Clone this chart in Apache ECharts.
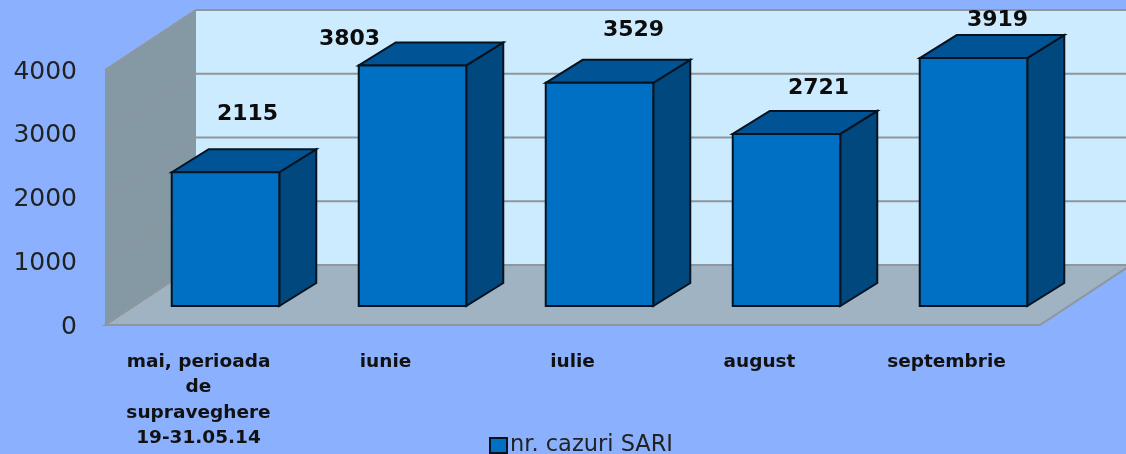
<!DOCTYPE html>
<html><head><meta charset="utf-8">
<style>html,body{margin:0;padding:0;background:#8BB1FE;overflow:hidden}#c{width:1126px;height:454px}</style>
<script src="https://cdn.jsdelivr.net/npm/echarts@6/dist/echarts.min.js"></script>
</head><body><div id="c"></div>
<script>
const categories = ['mai, perioada\nde\nsupraveghere\n19-31.05.14', 'iunie', 'iulie', 'august', 'septembrie'];
const values = [2115, 3803, 3529, 2721, 3919];
const yTicks = [0, 1000, 2000, 3000, 4000];
const seriesName = 'nr. cazuri SARI';
// hand-placed data labels in the source: offset from the bar's top centre
const labelOffsets = [[22, -58], [-63, -26], [34, -53], [32, -46], [24, -38]];

const wallDepth = [91, -60];
const barDepth = [37, -23];
const chart = echarts.init(document.getElementById('c'), null, {renderer: 'canvas'});
const gridColor = '#8E979D';
const edge = '#06131f';
const poly = (points, fill, stroke, lw) => ({type: 'polygon', shape: {points},
  style: {fill, stroke: stroke || 'none', lineWidth: lw || 0, lineJoin: 'miter'}});

function renderWalls(params, api) {
  const [x0, y0] = api.coord([0, 0]);
  const [, yT] = api.coord([0, yTicks[yTicks.length - 1]]);
  const s = api.size([1, 0])[0];
  const x1 = x0 - s / 2 + s * categories.length;
  const xL = x0 - s / 2;
  const [dx, dy] = wallDepth;
  return {type: 'group', children: [
    poly([[xL + dx, yT + dy], [x1 + dx + 10, yT + dy], [x1 + dx + 10, y0 + dy], [xL + dx, y0 + dy]], '#CCEBFF'),
    poly([[xL, y0], [xL + dx, y0 + dy], [x1 + dx, y0 + dy], [x1, y0]], '#9FB3C3', gridColor, 2),
    poly([[xL, yT], [xL + dx, yT + dy], [xL + dx, y0 + dy], [xL, y0]], '#8599A5')
  ]};
}
function renderGridline(params, api) {
  const v = api.value(1);
  const [x0, y] = api.coord([0, v]);
  const s = api.size([1, 0])[0];
  const xL = x0 - s / 2, x1 = xL + s * categories.length;
  const [dx, dy] = wallDepth;
  return {type: 'polyline', shape: {points: [[xL, y], [xL + dx, y + dy], [x1 + dx + 10, y + dy]]},
    style: {fill: 'none', stroke: gridColor, lineWidth: 2}};
}
function renderBar(params, api) {
  const [cx, yTop] = api.coord([api.value(0), api.value(1)]);
  const [, yBase] = api.coord([api.value(0), 0]);
  const w = api.size([1, 0])[0] * 0.575;
  const l = cx - w / 2, r = cx + w / 2;
  const [dx, dy] = barDepth;
  const off = labelOffsets[params.dataIndex];
  return {type: 'group', children: [
    poly([[r, yTop], [r + dx, yTop + dy], [r + dx, yBase + dy], [r, yBase]], '#00487E', edge, 2),
    poly([[l, yTop], [l + dx, yTop + dy], [r + dx, yTop + dy], [r, yTop]], '#005496', edge, 2),
    poly([[l, yTop], [r, yTop], [r, yBase], [l, yBase]], '#0070C4', edge, 2),
    {type: 'text', style: {x: cx + off[0], y: yTop + off[1], text: String(api.value(1)),
      fill: '#0c0c0c', font: 'bold 22px "DejaVu Sans"', align: 'center', verticalAlign: 'middle'}}
  ]};
}

chart.setOption({
  animation: false,
  backgroundColor: '#8BB1FE',
  grid: [
    {left: 105, width: 935, top: 70, height: 255},
    {left: 132, width: 935, top: 53, height: 253}
  ],
  xAxis: [
    {type: 'category', gridIndex: 0, data: categories,
      axisLine: {show: false}, axisTick: {show: false},
      axisLabel: {interval: 0, margin: 24, lineHeight: 25.5, color: '#111',
        fontFamily: 'DejaVu Sans', fontWeight: 'bold', fontSize: 18.5}},
    {type: 'category', gridIndex: 1, data: categories, show: false}
  ],
  yAxis: [
    {type: 'value', gridIndex: 0, min: 0, max: 4000, interval: 1000,
      axisLine: {show: false}, axisTick: {show: false}, splitLine: {show: false},
      axisLabel: {margin: 28, color: '#222', fontFamily: 'DejaVu Sans', fontSize: 25,
        verticalAlign: 'top', lineHeight: 4, formatter: v => String(v)}},
    {type: 'value', gridIndex: 1, min: 0, max: 4000, interval: 1000, show: false}
  ],
  legend: {
    left: 484, top: 429, itemWidth: 17, itemHeight: 15, itemGap: 6,
    data: [{name: seriesName, icon: 'rect',
      itemStyle: {color: '#0070C4', borderColor: edge, borderWidth: 2}}],
    textStyle: {color: '#222', fontFamily: 'DejaVu Sans', fontSize: 22.5, padding: [0, 0, 0, -2]}
  },
  series: [
    {type: 'custom', xAxisIndex: 0, yAxisIndex: 0, silent: true, renderItem: renderWalls,
      data: [[0, 0]], encode: {x: 0, y: 1}, z: 1},
    {type: 'custom', xAxisIndex: 0, yAxisIndex: 0, silent: true, renderItem: renderGridline,
      data: yTicks.map(t => [0, t]), encode: {x: 0, y: 1}, z: 2},
    {type: 'custom', name: seriesName, xAxisIndex: 1, yAxisIndex: 1, renderItem: renderBar,
      itemStyle: {color: '#0070C4'},
      data: values.map((v, i) => [i, v]), encode: {x: 0, y: 1}, z: 3}
  ]
});
</script></body></html>
